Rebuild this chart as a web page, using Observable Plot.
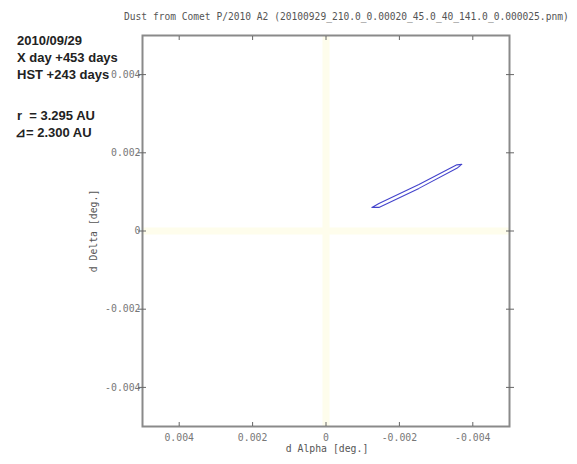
<!DOCTYPE html>
<html>
<head>
<meta charset="utf-8">
<script src="https://cdn.jsdelivr.net/npm/d3@7"></script>
<script src="https://cdn.jsdelivr.net/npm/@observablehq/plot@0.6"></script>
<style>
  html, body { margin: 0; padding: 0; background: #fff; }
  #chart { width: 577px; height: 464px; }
</style>
</head>
<body>
<div id="chart"></div>
<script>
// ---- data ----
const titleText = "Dust from Comet P/2010 A2 (20100929_210.0_0.00020_45.0_40_141.0_0.000025.pnm)";
const infoLines = ["2010/09/29", "X day +453 days", "HST +243 days"];
const distLines = ["r  = 3.295 AU", "\u22BF= 2.300 AU"];
const xLabel = "d Alpha [deg.]";
const yLabel = "d Delta [deg.]";

const xTicks = [0.004, 0.002, 0, -0.002, -0.004];
const xTickLabels = ["0.004", "0.002", "0", "-0.002", "-0.004"];
const yTicks = [0.004, 0.002, 0, -0.002, -0.004];
const yTickLabels = ["0.004", "0.002", "0", "-0.002", "-0.004"];

// thin closed loop of dust (d Alpha, d Delta in degrees)
const loopX = [-0.001252, -0.001442, -0.002531, -0.003565, -0.003701, -0.003565, -0.002531, -0.001442, -0.001252];
const loopY = [ 0.000603,  0.000705,  0.001192,  0.001692,  0.001705,  0.001603,  0.001090,  0.000603,  0.000603];
const loop = loopX.map((x, i) => ({x, y: loopY[i]}));

const xLab = new Map(xTicks.map((t, i) => [t, xTickLabels[i]]));
const yLab = new Map(yTicks.map((t, i) => [t, yTickLabels[i]]));

const mono = "'DejaVu Sans Mono', 'Liberation Mono', monospace";
const monoSize = 9.8;
const tickColor = "#777";
const cross = "#fefdec";

const plot = Plot.plot({
  width: 577,
  height: 464,
  marginLeft: 142,
  marginRight: 68,
  marginTop: 35,
  marginBottom: 38,
  style: { background: "#fff", fontFamily: mono, fontSize: monoSize + "px", color: tickColor },
  x: { domain: [0.005, -0.005] },
  y: { domain: [-0.005, 0.005] },
  marks: [
    Plot.ruleX([0], { stroke: cross, strokeWidth: 7 }),
    Plot.ruleY([0], { stroke: cross, strokeWidth: 7 }),
    Plot.line(loop, { x: "x", y: "y", stroke: "#4444cc", strokeWidth: 1.1 }),
    Plot.frame({ stroke: "#8a8a8a", strokeWidth: 2 }),
    // labels
    Plot.axisX({ anchor: "bottom", ticks: xTicks, tickSize: 0, tickPadding: 8,
      tickFormat: d => xLab.get(d), fill: tickColor, fontFamily: mono, fontSize: monoSize, label: null }),
    Plot.axisY({ anchor: "left", ticks: yTicks, tickSize: 0, tickPadding: 2,
      tickFormat: d => yLab.get(d), fill: tickColor, fontFamily: mono, fontSize: monoSize, label: null }),
    // ticks
    Plot.axisX({ anchor: "bottom", ticks: xTicks, tickSize: -4, tickFormat: () => "", stroke: "#666", label: null }),
    Plot.axisX({ anchor: "top", ticks: xTicks, tickSize: -4, tickFormat: () => "", stroke: "#666", label: null }),
    Plot.axisY({ anchor: "left", ticks: yTicks, tickSize: 4, tickFormat: () => "", stroke: "#666", label: null }),
    Plot.axisY({ anchor: "left", ticks: yTicks, tickSize: -4, tickFormat: () => "", stroke: "#666", label: null }),
    Plot.axisY({ anchor: "right", ticks: yTicks, tickSize: 4, tickFormat: () => "", stroke: "#666", label: null }),
    Plot.axisY({ anchor: "right", ticks: yTicks, tickSize: -4, tickFormat: () => "", stroke: "#666", label: null })
  ]
});

document.getElementById("chart").appendChild(plot);

const svg = d3.select(plot);
// title
svg.append("text")
  .attr("x", 124).attr("y", 20).attr("text-anchor", "start")
  .attr("font-family", mono).attr("font-size", "9.6px").attr("fill", "#555")
  .text(titleText);
// axis labels
svg.append("text")
  .attr("x", 327).attr("y", 452).attr("text-anchor", "middle")
  .attr("font-family", mono).attr("font-size", monoSize + "px").attr("fill", "#555")
  .text(xLabel);
svg.append("text")
  .attr("transform", "translate(97,231) rotate(-90)").attr("text-anchor", "middle")
  .attr("font-family", mono).attr("font-size", monoSize + "px").attr("fill", "#555")
  .text(yLabel);
// info block
const sans = "'Liberation Sans', Arial, sans-serif";
infoLines.forEach((t, i) => {
  svg.append("text")
    .attr("x", 17).attr("y", 45 + i * 17).attr("text-anchor", "start")
    .attr("font-family", sans).attr("font-weight", "bold").attr("font-size", "13px").attr("fill", "#222")
    .text(t);
});
distLines.forEach((t, i) => {
  svg.append("text")
    .attr("x", i === 1 ? 15 : 17).attr("y", 120 + i * 17).attr("text-anchor", "start")
    .attr("font-family", sans).attr("font-weight", "bold").attr("font-size", "13px").attr("fill", "#222")
    .attr("xml:space", "preserve").style("white-space", "pre")
    .text(t);
});
</script>
</body>
</html>
